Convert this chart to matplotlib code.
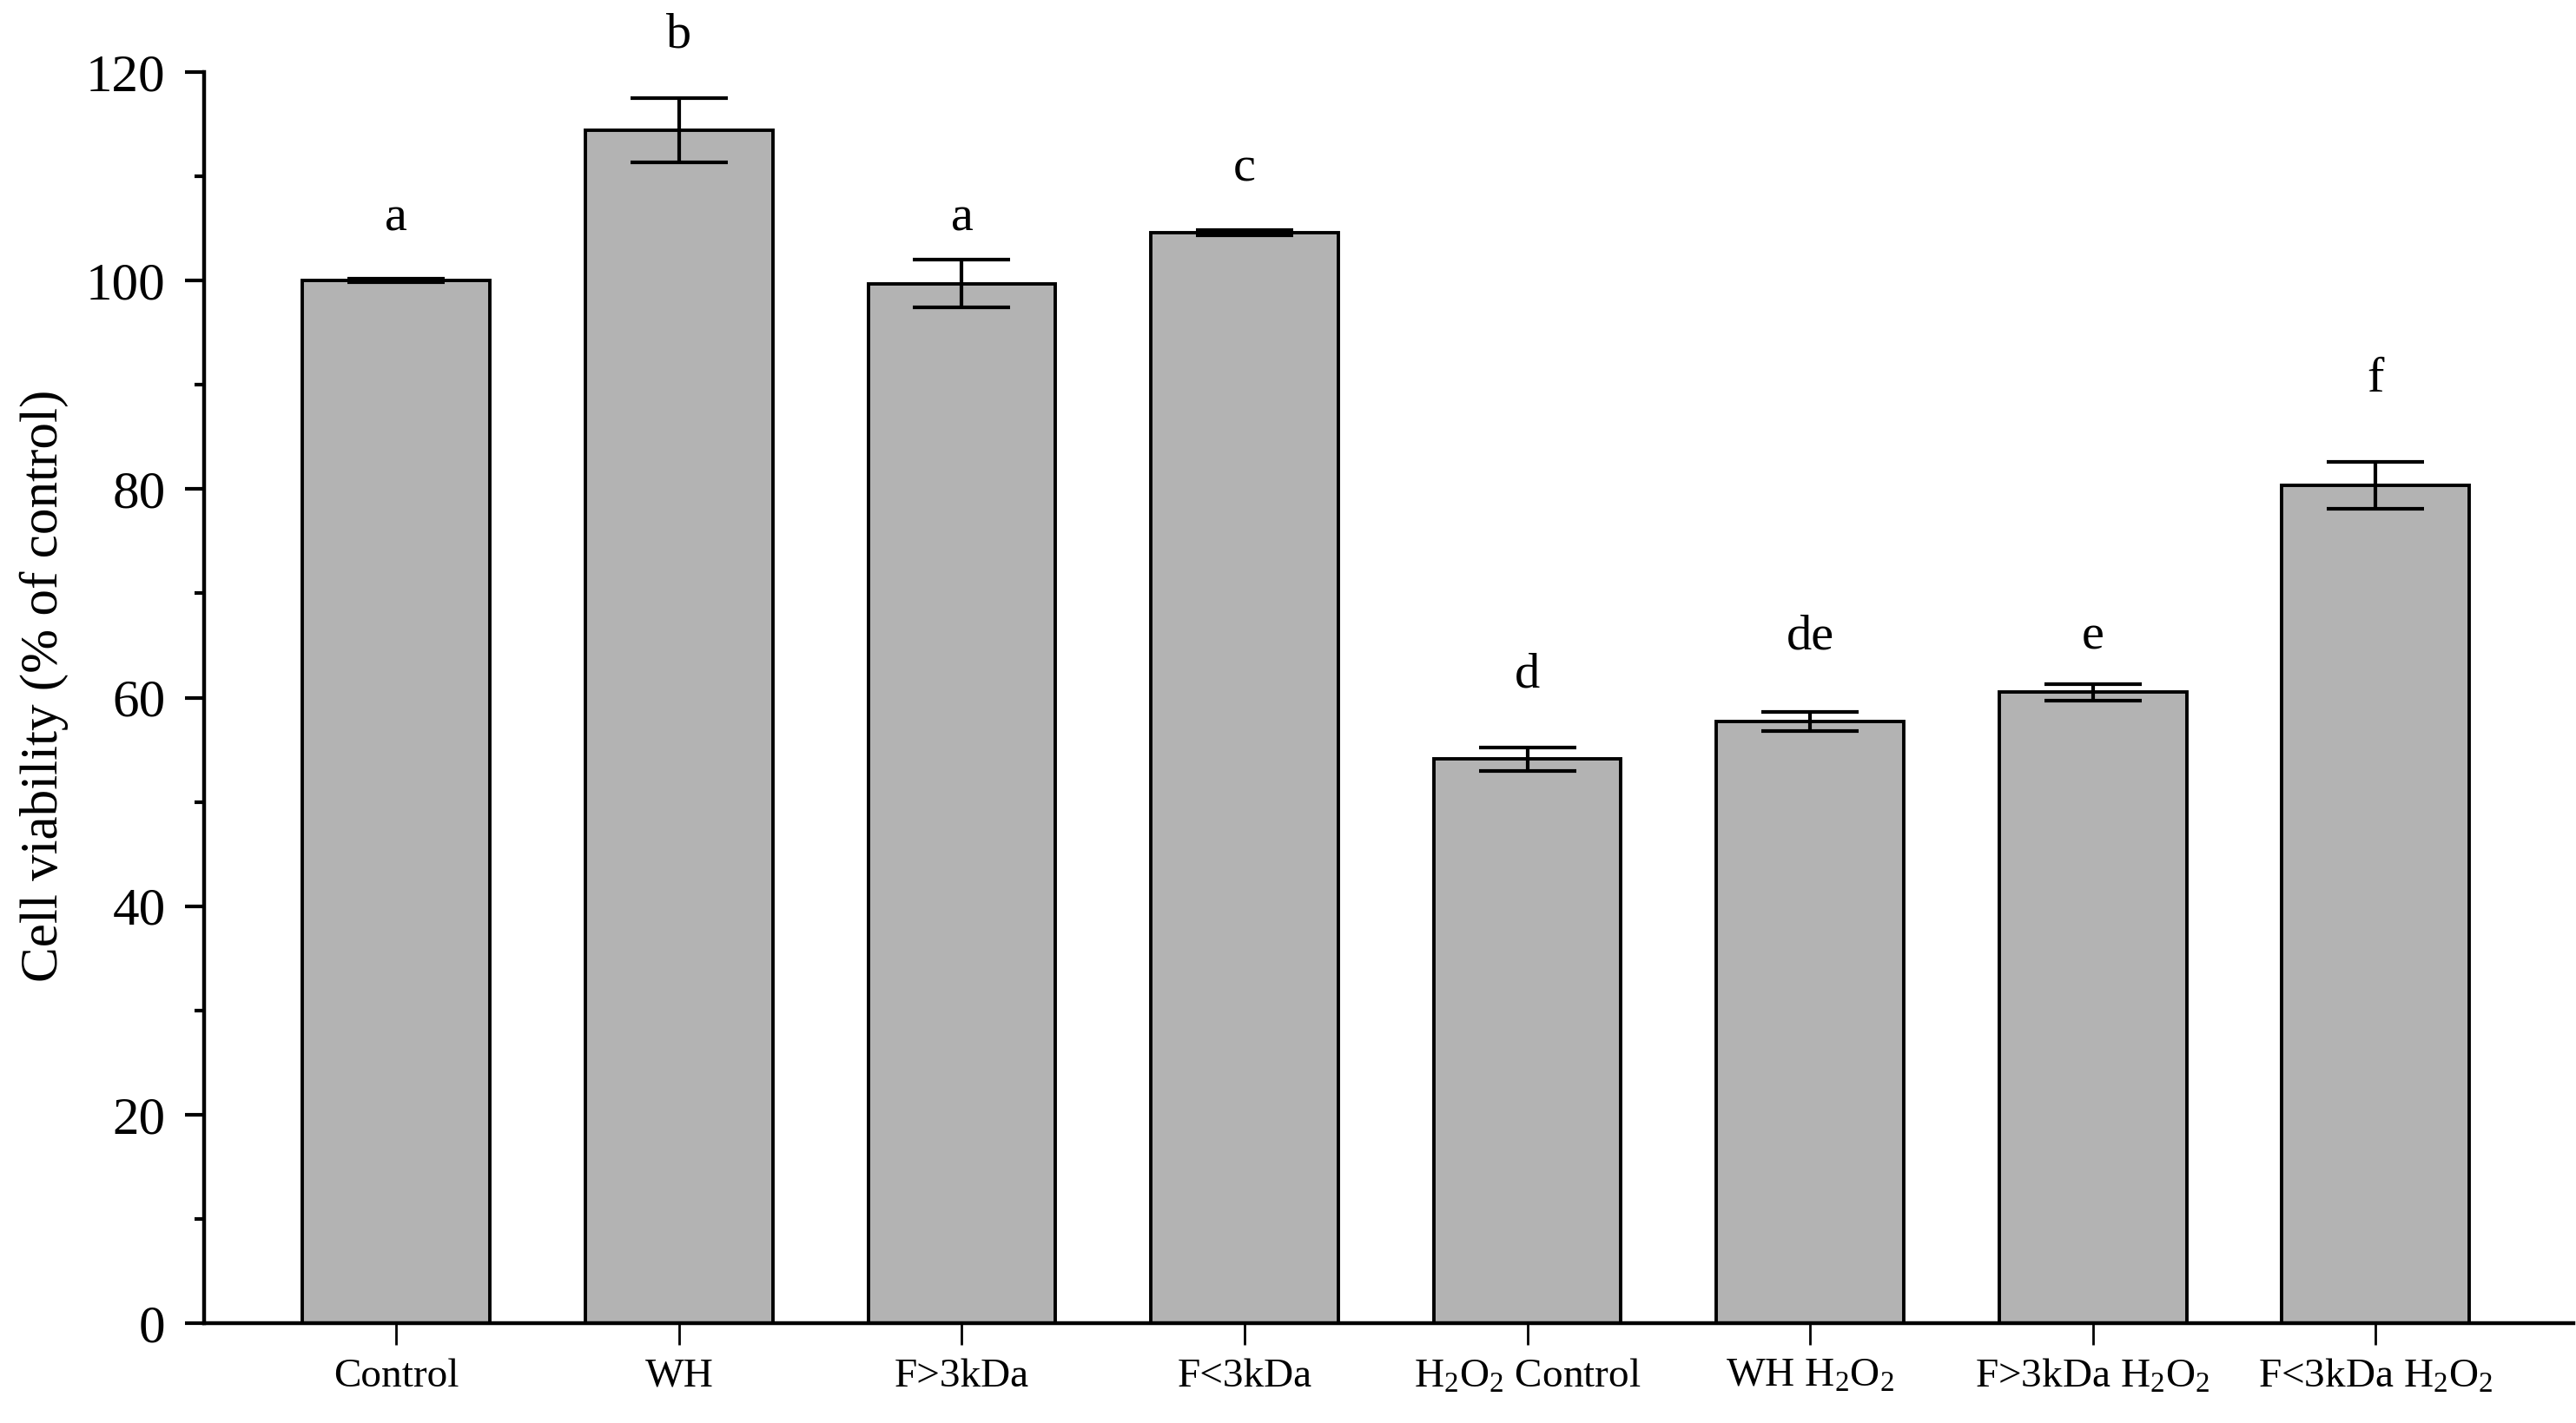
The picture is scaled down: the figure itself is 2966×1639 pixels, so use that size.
import matplotlib
matplotlib.use("Agg")
import matplotlib.pyplot as plt
from matplotlib.ticker import MultipleLocator

plt.rcParams['font.family'] = ['Liberation Serif', 'DejaVu Serif']
plt.rcParams['mathtext.fontset'] = 'custom'
plt.rcParams['mathtext.rm'] = 'Liberation Serif'
plt.rcParams['mathtext.it'] = 'Liberation Serif:italic'

categories = ["Control", "WH", "F>3kDa", "F<3kDa",
              r"H$\mathregular{_2}$O$\mathregular{_2}$ Control",
              r"WH H$\mathregular{_2}$O$\mathregular{_2}$",
              r"F>3kDa H$\mathregular{_2}$O$\mathregular{_2}$",
              r"F<3kDa H$\mathregular{_2}$O$\mathregular{_2}$"]
values = [100.0, 114.4, 99.7, 104.6, 54.1, 57.7, 60.5, 80.4]
errors = [0.15, 3.1, 2.3, 0.25, 1.1, 0.9, 0.8, 2.25]
letters = ["a", "b", "a", "c", "d", "de", "e", "f"]
letter_y = [106.0, 123.5, 106.0, 110.7, 62.2, 65.8, 65.8, 90.5]

W, H, DPI = 2966, 1639, 200
fig = plt.figure(figsize=(W / DPI, H / DPI), dpi=DPI)
left, bottom = 235 / W, 1 - 1524 / H
top = 1 - 83 / H
ax = fig.add_axes([left, bottom, 0.999 - left, top - bottom])

x = list(range(len(categories)))
ax.bar(x, values, width=0.663, color='#b3b3b3', edgecolor='black', linewidth=1.4, zorder=2)
ax.errorbar(x, values, yerr=errors, fmt='none', ecolor='black', elinewidth=1.5,
            capsize=20, capthick=1.5, zorder=3)

for xi, lab, ly in zip(x, letters, letter_y):
    ax.text(xi, ly, lab, ha='center', va='center', fontsize=21)

ax.set_ylim(0, 120)
ax.set_xlim(-0.68, 7.70)
ax.yaxis.set_major_locator(MultipleLocator(20))
ax.yaxis.set_minor_locator(MultipleLocator(10))
ax.set_xticks(x)
ax.set_xticklabels(categories, fontsize=17)
ax.tick_params(axis='y', which='major', direction='out', length=8, width=1.5, labelsize=22, pad=8)
ax.tick_params(axis='y', which='minor', direction='out', length=4, width=1.5)
ax.tick_params(axis='x', which='major', direction='out', length=9, width=1.0, pad=5.5)

for s in ['top', 'right']:
    ax.spines[s].set_visible(False)
for s in ['left', 'bottom']:
    ax.spines[s].set_linewidth(1.6)

fig.text(51 / W, 1 - 790 / H, "Cell viability (% of control)", rotation=90,
         ha='center', va='center', fontsize=22)

fig.savefig("out.png", dpi=DPI)
